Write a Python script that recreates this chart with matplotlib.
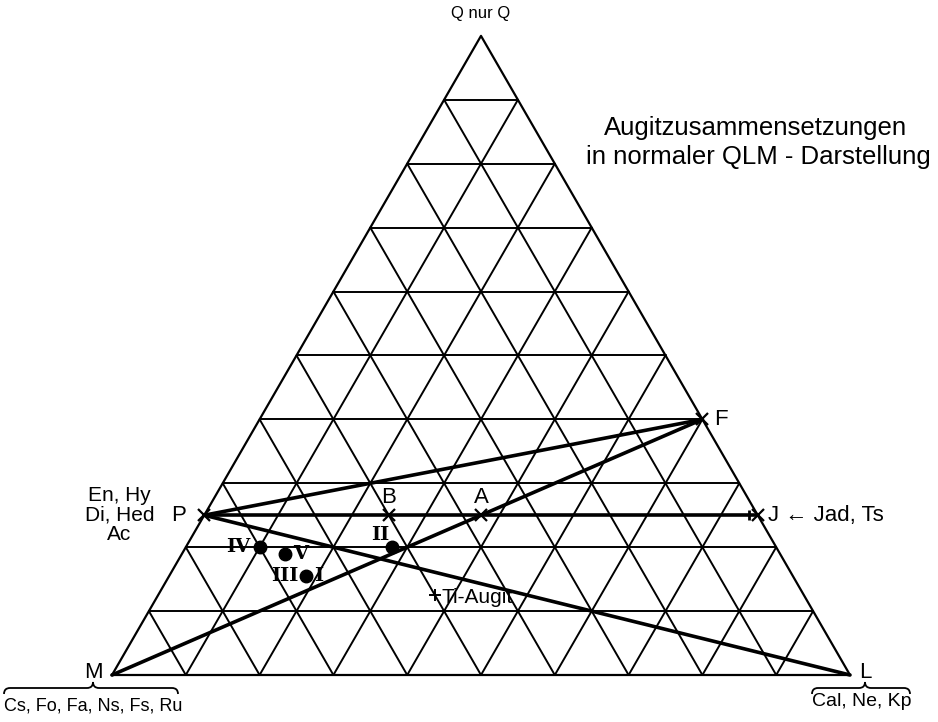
import numpy as np
import matplotlib.pyplot as plt
from matplotlib.path import Path
from matplotlib.patches import PathPatch

# ternary values as fractions (Q, L); M = 1 - Q - L
pt_names = ['P', 'B', 'A', 'J', 'F', 'Ti-Augit']
pt_q = [0.25, 0.25, 0.25, 0.25, 0.40, 0.125]
pt_l = [0.00, 0.25, 0.375, 0.75, 0.60, 0.375]

aug_names = ['I', 'II', 'IV', 'V']
aug_q = [0.155, 0.20, 0.20, 0.19]
aug_l = [0.185, 0.28, 0.10, 0.14]

tie_lines = [('P', 'F'), ('P', 'J'), ('P', 'L'), ('M', 'F')]
n_div = 10

SQ3 = np.sqrt(3) / 2


def tern(q, l):
    return l + q / 2.0, q * SQ3


plt.rcParams['font.family'] = ['Liberation Sans', 'DejaVu Sans']

# pixel layout: M at (112, 675), side 738 px
side, mx, my = 738.0, 112.0, 675.0
W, H = 938, 722
fig = plt.figure(figsize=(W / 100, H / 100), dpi=100)
ax = fig.add_axes([0, 0, 1, 1])
ax.set_xlim(-mx / side, (W - mx) / side)
ax.set_ylim((my - H) / side, my / side)
ax.set_aspect('equal')
ax.axis('off')

pos = {'M': tern(0, 0), 'L': tern(0, 1), 'Q': tern(1, 0)}
for n, q, l in zip(pt_names, pt_q, pt_l):
    pos[n] = tern(q, l)

# grid
gkw = dict(color='black', lw=1.4, solid_capstyle='round')
for i in range(1, n_div):
    f = i / n_div
    for a, b in [((f, 0), (f, 1 - f)),          # const Q
                 ((0, f), (1 - f, f)),          # const L
                 ((0, 1 - f), (1 - f, 0))]:     # const M
        xa, ya = tern(*a)
        xb, yb = tern(*b)
        ax.plot([xa, xb], [ya, yb], **gkw)
tri = [pos['M'], pos['L'], pos['Q'], pos['M']]
ax.plot([p[0] for p in tri], [p[1] for p in tri], color='black', lw=1.6)

# tie lines
for a, b in tie_lines:
    ax.plot([pos[a][0], pos[b][0]], [pos[a][1], pos[b][1]], color='black', lw=2.6,
            solid_capstyle='round')

# markers
for n in ['P', 'B', 'A', 'J', 'F']:
    ax.plot(*pos[n], marker='x', ms=8, mew=1.6, color='black')
ax.plot(*pos['Ti-Augit'], marker='+', ms=8, mew=1.4, color='black')
jx, jy = pos['J']
ax.plot(jx - 0.012, jy, marker='|', ms=7, mew=2, color='black')

for n, q, l in zip(aug_names, aug_q, aug_l):
    ax.plot(*tern(q, l), marker='o', ms=9, color='black')

lab = dict(fontsize=16, color='black', va='center')


def label(txt, xy, dx, dy, ha='center', **kw):
    kk = dict(lab)
    kk.update(kw)
    ax.annotate(txt, xy, xytext=(dx * 0.72, dy * 0.72), textcoords='offset points', ha=ha, **kk)


label('P', pos['P'], -26, 0)
label('F', pos['F'], 12, 0, ha='left')
label('J \u2190 Jad, Ts', pos['J'], 10, 0, ha='left')
label('B', pos['B'], 0, 18)
label('A', pos['A'], 0, 18)
label('Ti-Augit', pos['Ti-Augit'], 7, -2, ha='left', fontsize=15)
label('M', pos['M'], -19, 2)
label('L', pos['L'], 15, 2)
label('Q nur Q', pos['Q'], 0, 22, fontsize=12)

aug_off = {'I': [('III', -21, 0), ('I', 13, 0)],
           'II': [('II', -12, 12)],
           'IV': [('IV', -21, 0)],
           'V': [('V', 15, 0)]}
for n, q, l in zip(aug_names, aug_q, aug_l):
    for txt, dx, dy in aug_off[n]:
        label(txt, tern(q, l), dx, dy, fontsize=14, family='DejaVu Serif', fontweight='bold')

label('En, Hy\nDi, Hed\nAc', pos['P'], -85, 0, fontsize=15, linespacing=1.05)

ax.text(756 / W, 1 - 128 / H, 'Augitzusammensetzungen', transform=fig.transFigure,
        ha='center', va='center', fontsize=18.5)
ax.text(758 / W, 1 - 157 / H, 'in normaler QLM - Darstellung', transform=fig.transFigure,
        ha='center', va='center', fontsize=18.5)


def brace(x0, x1, xt, y, h):
    verts = [(x0, y - h), (x0, y), (x0 + h, y), (xt - h, y), (xt, y), (xt, y + h),
             (xt, y), (xt + h, y), (x1 - h, y), (x1, y), (x1, y - h)]
    codes = [Path.MOVETO, Path.CURVE3, Path.CURVE3, Path.LINETO, Path.CURVE3, Path.CURVE3,
             Path.CURVE3, Path.CURVE3, Path.LINETO, Path.CURVE3, Path.CURVE3]
    ax.add_patch(PathPatch(Path(verts, codes), fill=False, lw=1.3, color='black'))


u = 1 / side
Mx, My = pos['M']
Lx, Ly = pos['L']
brace(Mx - 108 * u, Mx + 66 * u, Mx - 19 * u, My - 13 * u, 6 * u)
ax.text(Mx - 19 * u, My - 31 * u, 'Cs, Fo, Fa, Ns, Fs, Ru', ha='center', va='center', fontsize=13)
brace(Lx - 38 * u, Lx + 60 * u, Lx + 15 * u, Ly - 13 * u, 6 * u)
ax.text(Lx + 12 * u, Ly - 26 * u, 'Cal, Ne, Kp', ha='center', va='center', fontsize=14)

fig.savefig('out.png', dpi=100)
